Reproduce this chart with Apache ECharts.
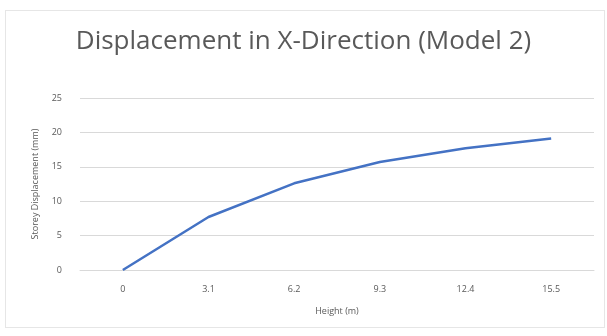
<!DOCTYPE html>
<html>
<head>
<meta charset="utf-8">
<script src="https://cdn.jsdelivr.net/npm/echarts@6/dist/echarts.min.js"></script>
<style>
html,body{margin:0;padding:0;background:#fff;}
#c{width:607px;height:336px;}
#frame{position:absolute;left:5px;top:10px;width:600px;height:318px;border:1px solid #e6e6e6;box-sizing:border-box;pointer-events:none;}
</style>
</head>
<body>
<div id="c"></div>
<div id="frame"></div>
<script>
const categories = ['0', '3.1', '6.2', '9.3', '12.4', '15.5'];
const displacement = [0, 7.7, 12.6, 15.7, 17.7, 19.1];
const yTicks = { min: 0, max: 25, interval: 5 };

const chart = echarts.init(document.getElementById('c'), null, { renderer: 'canvas' });
const fontFam = '"Open Sans", "Liberation Sans", sans-serif';
chart.setOption({
  animation: false,
  backgroundColor: '#fff',
  title: {
    text: 'Displacement in X-Direction (Model 2)',
    left: 'center',
    top: 24,
    textStyle: { fontFamily: fontFam, fontSize: 26, fontWeight: 'normal', color: '#595959' }
  },
  grid: { left: 80, right: 13, top: 98, bottom: 66, containLabel: false },
  xAxis: {
    type: 'category',
    data: categories,
    boundaryGap: true,
    name: 'Height (m)',
    nameLocation: 'middle',
    nameGap: 37,
    nameTextStyle: { fontFamily: fontFam, fontSize: 9, color: '#595959' },
    axisLine: { show: true, lineStyle: { color: '#d9d9d9' } },
    axisTick: { show: false },
    axisLabel: { fontFamily: fontFam, fontSize: 9, color: '#595959', margin: 15 }
  },
  yAxis: {
    type: 'value',
    min: yTicks.min, max: yTicks.max, interval: yTicks.interval,
    name: 'Storey Displacement (mm)',
    nameLocation: 'middle',
    nameGap: 40,
    nameTextStyle: { fontFamily: fontFam, fontSize: 9, color: '#595959' },
    axisLine: { show: false },
    axisTick: { show: false },
    axisLabel: { fontFamily: fontFam, fontSize: 9, color: '#595959', margin: 18 },
    splitLine: { lineStyle: { color: '#d9d9d9', width: 1 } }
  },
  series: [{
    type: 'line',
    data: displacement,
    symbol: 'none',
    lineStyle: { color: '#4472C4', width: 2.5 },
    itemStyle: { color: '#4472C4' }
  }]
});
</script>
</body>
</html>
